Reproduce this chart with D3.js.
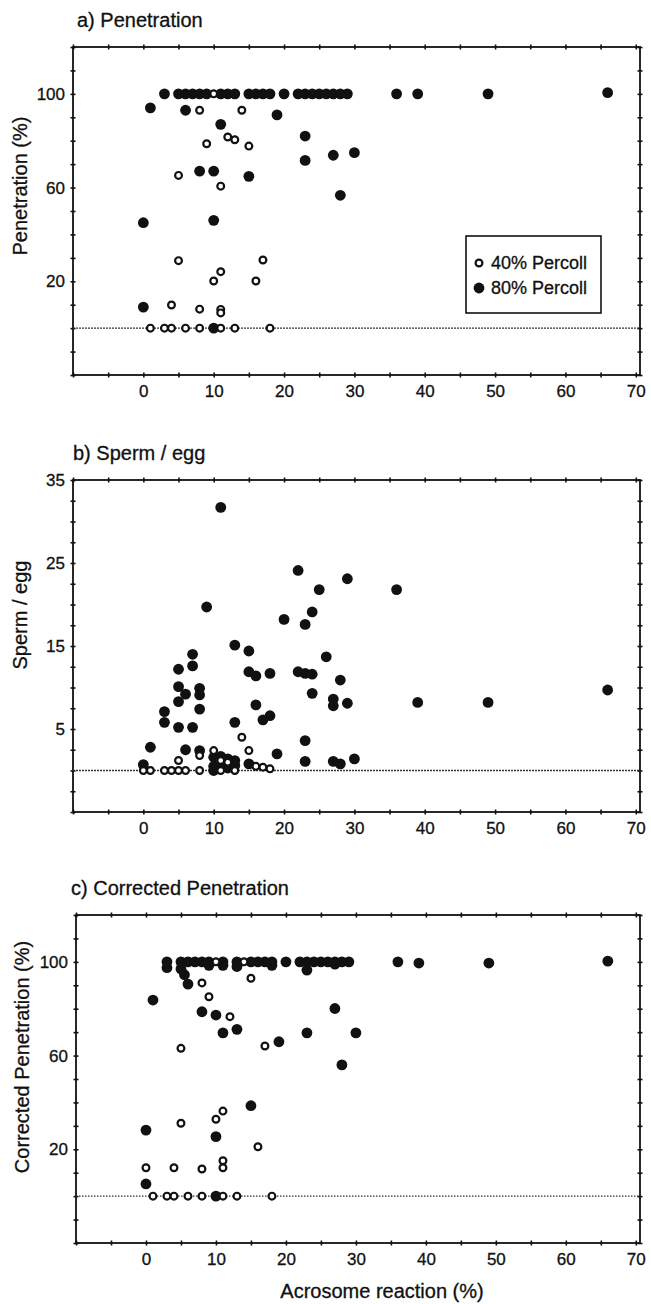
<!DOCTYPE html>
<html>
<head>
<meta charset="UTF-8">
<title>Acrosome reaction and penetration</title>
<script src="https://d3js.org/d3.v7.min.js"></script>
<style>
  body { margin: 0; background: #fff; font-family: "Liberation Sans", Arial, sans-serif; }
  text { fill: #111; stroke: #111; stroke-width: 0.3; }
</style>
</head>
<body>
<div id="chart"></div>
<script>
const seriesNames = ["40% Percoll", "80% Percoll"];
const xTickLabels = [0, 10, 20, 30, 40, 50, 60, 70];
const penTickLabels = [20, 60, 100];
const spermTickLabels = [5, 15, 25, 35];

// a) Penetration (%) vs acrosome reaction (%)
const pen40 = [[10,100],[8,93],[14,93],[9,78.7],[12,81.6],[13,80.4],[15,77.7],[5,65.2],[11,60.6],
  [5,28.8],[17,29.1],[11,24.1],[10,20.1],[16,20.1],[4,9.9],[8,8.1],[11,8],[11,6.5],
  [1,0],[3,0],[4,0],[6,0],[8,0],[11,0],[13,0],[18,0]];
const pen80 = [[3,100],[5,100],[6,100],[7,100],[8,100],[9,100],[11,100],[12,100],[13,100],[15,100],
  [16,100],[17,100],[18,100],[20,100],[22,100],[23,100],[24,100],[25,100],[26,100],[27,100],[28,100],
  [29,100],[36,100],[39,100],[49,100],[66,100.5],
  [1,94],[6,93],[19,91],[11,87],[23,82],[23,71.6],[27,73.8],[30,74.9],[8,67],[10,67],[15,64.8],
  [28,56.7],[0,45],[10,46],[0,9],[10,0]];

// b) Sperm / egg
const sperm40 = [[14,4],[8,1.8],[10,2.4],[15,2.4],[5,1.2],[12,1],[11,1.2],[16,0.5],[17,0.4],[18,0.2],
  [0,0],[1,0],[3,0],[4,0],[5,0],[6,0],[8,0],[11,0],[13,0]];
const sperm80 = [[11,31.7],[22,24.1],[29,23.1],[25,21.8],[36,21.8],[9,19.7],[24,19.1],[20,18.2],[23,17.6],
  [13,15.1],[15,14.4],[7,14],[26,13.7],[7,12.6],[5,12.2],[15,11.9],[16,11.4],[18,11.7],[22,11.9],
  [23,11.7],[24,11.6],[28,10.9],[5,10.1],[8,9.9],[8,9.1],[6,9.2],[24,9.3],[66,9.7],[5,8.3],[27,8.6],
  [27,7.8],[29,8.1],[39,8.2],[49,8.2],[16,7.9],[8,7.4],[3,7.1],[3,5.8],[18,6.6],[17,6.1],[13,5.8],
  [5,5.2],[7,5.2],[23,3.6],[1,2.8],[6,2.5],[8,2.4],[19,2],[10,1.6],[11,1.7],[12,1.4],[13,1.2],
  [30,1.4],[23,1.1],[27,1.1],[28,0.8],[15,0.8],[0,0.7],[10,0.5],[11,0.6],[12,0.3],[13,0.6],[10,0]];

// c) Corrected penetration (%)
const corr40 = [[10,100],[14,100],[15,93],[8,91],[9,85.1],[12,76.6],[17,64.1],[5,63.1],[11,36.3],
  [10,32.8],[5,31.1],[16,21.1],[11,15.1],[11,12.1],[0,12.1],[4,12.1],[8,11.6],
  [1,0],[3,0],[4,0],[6,0],[8,0],[11,0],[13,0],[18,0]];
const corr80 = [[3,100],[5,100],[6,100],[7,100],[8,100],[9,100],[11,100],[13,100],[15,100],[16,100],
  [17,100],[18,100],[20,100],[22,100],[23,100],[24,100],[25,100],[26,100],[27,100],[28,100],[29,100],
  [36,100],[39,99.5],[49,99.5],[66,100.3],
  [3,97.5],[5,97],[5.5,94.5],[9,98.5],[11,98.5],[13,98],[18,98.5],[23,96.5],[27,99],
  [6,90.5],[1,83.7],[8,78.7],[10,77.3],[27,80.1],[11,69.7],[13,71.2],[23,69.7],[30,69.7],[19,65.9],
  [28,56],[15,38.6],[0,28.2],[10,25.4],[0,5.2],[10,0]];

const svg = d3.select("#chart").append("svg")
  .attr("width", 651).attr("height", 1304);

function drawPanel(p) {
  const x = d3.scaleLinear().domain([-10, 70.6]).range([p.left, p.right]);
  const y = d3.scaleLinear().domain(p.yDomain).range([p.bottom, p.top]);
  const g = svg.append("g");

  g.append("text")
    .attr("x", p.titleX).attr("y", p.top - 20)
    .attr("font-size", 20)
    .text(p.title);

  const xVals = d3.range(-10, 71, 5);
  const yVals = d3.range(p.yDomain[0], p.yDomain[1] + 0.01, p.yStep);

  const bottom = g.append("g").attr("transform", `translate(0,${p.bottom})`)
    .call(d3.axisBottom(x).tickValues(xVals).tickSize(0).tickPadding(10)
      .tickFormat(d => xTickLabels.includes(d) ? d : ""));
  const top = g.append("g").attr("transform", `translate(0,${p.top})`)
    .call(d3.axisTop(x).tickValues(xVals).tickSize(0).tickFormat(""));
  const left = g.append("g").attr("transform", `translate(${p.left},0)`)
    .call(d3.axisLeft(y).tickValues(yVals).tickSize(0).tickPadding(8)
      .tickFormat(d => p.yLabels.includes(d) ? d : ""));
  const right = g.append("g").attr("transform", `translate(${p.right},0)`)
    .call(d3.axisRight(y).tickValues(yVals).tickSize(0).tickFormat(""));

  [bottom, top, left, right].forEach(a => {
    a.select(".domain").remove();
    a.selectAll("text").attr("font-size", 17).attr("font-family", "Liberation Sans, Arial, sans-serif").attr("fill", "#111");
  });
  [bottom, top].forEach(a => a.selectAll(".tick line").attr("y1", -2.5).attr("y2", 2.5)
    .attr("stroke", "#111").attr("stroke-width", 1.6));
  [left, right].forEach(a => a.selectAll(".tick line").attr("x1", -2.5).attr("x2", 2.5)
    .attr("stroke", "#111").attr("stroke-width", 1.6));

  g.append("rect")
    .attr("x", p.left).attr("y", p.top)
    .attr("width", p.right - p.left).attr("height", p.bottom - p.top)
    .attr("fill", "none").attr("stroke", "#111").attr("stroke-width", 1.8);

  // zero line
  g.append("line")
    .attr("x1", p.left).attr("x2", p.right)
    .attr("y1", y(0)).attr("y2", y(0))
    .attr("stroke", "#333").attr("stroke-width", 1.3)
    .attr("stroke-dasharray", p.dash);

  g.append("text")
    .attr("transform", `translate(${p.yTitleX},${p.yTitleY}) rotate(-90)`)
    .attr("text-anchor", "middle").attr("dominant-baseline", "central")
    .attr("font-size", 20)
    .text(p.yTitle);

  g.selectAll(".f80").data(p.filled).join("circle")
    .attr("cx", d => x(d[0])).attr("cy", d => y(d[1]))
    .attr("r", 5.4).attr("fill", "#111");

  g.selectAll(".o40").data(p.open).join("circle")
    .attr("cx", d => x(d[0])).attr("cy", d => y(d[1]))
    .attr("r", 3.4).attr("fill", "#fff").attr("stroke", "#111").attr("stroke-width", 2.2);
}

drawPanel({
  title: "a) Penetration", titleX: 77,
  left: 73, right: 640, top: 47, bottom: 375,
  yDomain: [-20, 120], yStep: 10, yLabels: penTickLabels,
  yTitle: "Penetration (%)", yTitleX: 20, yTitleY: 186,
  open: pen40, filled: pen80, dash: "2,1"
});
drawPanel({
  title: "b) Sperm  / egg", titleX: 73,
  left: 73, right: 640, top: 480, bottom: 812,
  yDomain: [-5, 35], yStep: 2.5, yLabels: spermTickLabels,
  yTitle: "Sperm / egg", yTitleX: 20, yTitleY: 615,
  open: sperm40, filled: sperm80, dash: "2,1"
});
drawPanel({
  title: "c) Corrected Penetration", titleX: 71,
  left: 76, right: 640, top: 915, bottom: 1243,
  yDomain: [-20, 120], yStep: 10, yLabels: penTickLabels,
  yTitle: "Corrected Penetration (%)", yTitleX: 22, yTitleY: 1057,
  open: corr40, filled: corr80, dash: "1.5,1.5"
});

// legend (panel a)
const lg = svg.append("g");
lg.append("rect").attr("x", 466).attr("y", 236).attr("width", 135).attr("height", 77)
  .attr("fill", "#fff").attr("stroke", "#111").attr("stroke-width", 1.6);
seriesNames.forEach((name, i) => {
  const cy = 263 + i * 25;
  const c = lg.append("circle").attr("cx", 479).attr("cy", cy);
  if (i === 0) c.attr("r", 3.4).attr("fill", "#fff").attr("stroke", "#111").attr("stroke-width", 2.2);
  else c.attr("r", 5.4).attr("fill", "#111");
  lg.append("text").attr("x", 491).attr("y", cy).attr("dominant-baseline", "central")
    .attr("font-size", 18).text(name);
});

svg.append("text")
  .attr("x", 382).attr("y", 1298)
  .attr("text-anchor", "middle").attr("font-size", 20)
  .text("Acrosome reaction (%)");
</script>
</body>
</html>
